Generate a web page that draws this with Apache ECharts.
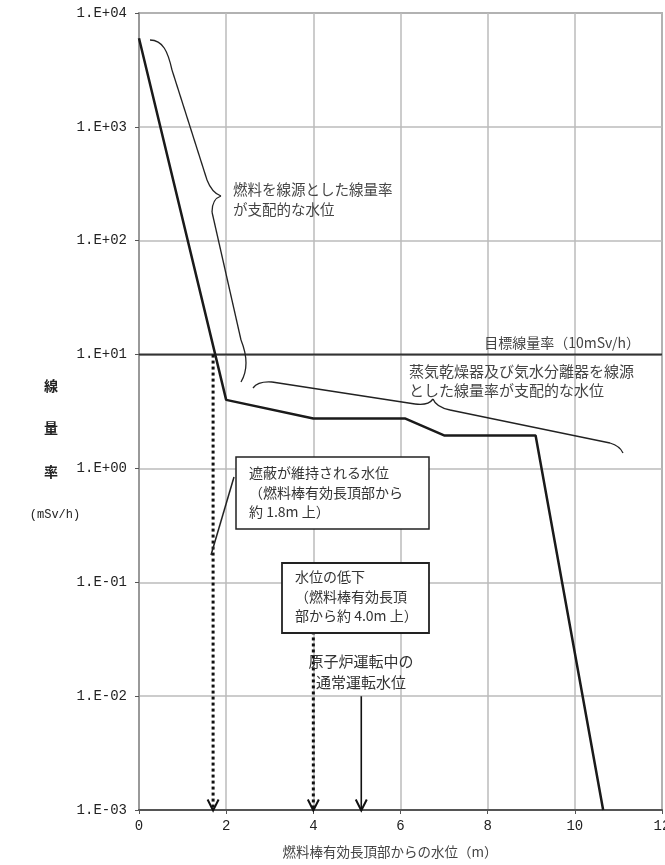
<!DOCTYPE html>
<html>
<head>
<meta charset="utf-8">
<script src="https://cdn.jsdelivr.net/npm/echarts@6/dist/echarts.min.js"></script>
<style>
html, body { margin: 0; padding: 0; background: #fff; }
#chart { width: 665px; height: 865px; }
</style>
</head>
<body>
<div id="chart"></div>
<script>
// 燃料棒有効長頂部からの水位 (m) と 線量率 (mSv/h)
const levels = [0, 2.0, 4.0, 6.1, 7.0, 9.1, 10.65]
const doseRates = [6000, 4.0, 2.75, 2.75, 1.95, 1.95, 0.001]
const xTicks = [0, 2, 4, 6, 8, 10, 12]
const yTicks = [0.001, 0.01, 0.1, 1, 10, 100, 1000, 10000]

// 目標線量率と矢印
const targetRate = 10
const shieldLevel = 1.7
const dropLevel = 4.0
const dropTop = 0.037
const normalLevel = 5.1
const normalTop = 0.01

const chart = echarts.init(document.getElementById('chart'))

const CJK = '"Noto Sans CJK JP", sans-serif'
const MONO = '"Liberation Mono", monospace'
const arrowHead = 'path://M0,0L6,10L12,0'
const braceStyle = { fill: null, stroke: '#222', lineWidth: 1.3 }

function expLabel(v) {
  const e = Math.round(Math.log10(v))
  return '1.E' + (e < 0 ? '-' : '+') + String(Math.abs(e)).padStart(2, '0')
}

function arrowSeries(x, top, dotted) {
  return {
    type: 'line',
    data: [
      { value: [x, top], symbol: 'none' },
      { value: [x, yTicks[0]] },
    ],
    symbol: arrowHead,
    symbolSize: [11, 11],
    symbolOffset: [0, -5],
    itemStyle: { color: 'rgba(0,0,0,0)', borderColor: '#111', borderWidth: 2 },
    lineStyle: { color: '#111', width: dotted ? 3 : 1.6, type: dotted ? [3, 3] : 'solid' },
    z: 5,
  }
}

// 括弧の部品
function seg(a, b) {
  return { type: 'line', z: 10, shape: { x1: a[0], y1: a[1], x2: b[0], y2: b[1] }, style: braceStyle }
}
function curve(a, c, b, c2) {
  const shape = { x1: a[0], y1: a[1], cpx1: c[0], cpy1: c[1], x2: b[0], y2: b[1] }
  if (c2) { shape.cpx2 = c2[0]; shape.cpy2 = c2[1] }
  return { type: 'bezierCurve', z: 10, shape: shape, style: braceStyle }
}

const brace1 = [
  curve([150, 40], [163, 40], [172, 70], [168, 52]),
  seg([172, 70], [207, 180]),
  curve([207, 180], [212, 193], [221, 196]),
  curve([221, 196], [212, 199], [212, 212]),
  seg([212, 212], [241, 340]),
  curve([241, 340], [251, 365], [241, 382]),
]
const brace2 = [
  curve([253, 388], [258, 381], [272, 382]),
  seg([272, 382], [415, 404]),
  curve([415, 404], [428, 406], [433, 399]),
  curve([433, 399], [436, 407], [450, 410]),
  seg([450, 410], [610, 443]),
  curve([610, 443], [620, 446], [623, 453]),
]

function label(text, x, y, font, extra) {
  return { type: 'text', z: 11, style: Object.assign({ text: text, x: x, y: y, font: font, fill: '#444' }, extra || {}) }
}

const option = {
  backgroundColor: '#fff',
  animation: false,
  grid: {
    left: 139,
    right: 3,
    top: 13,
    bottom: 55,
    outerBoundsMode: 'none',
    containLabel: false,
    show: true,
    borderColor: '#777',
    borderWidth: 1.5,
  },
  xAxis: {
    type: 'value',
    min: xTicks[0],
    max: xTicks[xTicks.length - 1],
    interval: 2,
    axisLine: { lineStyle: { color: '#555', width: 2 } },
    axisTick: { show: true, length: 4, lineStyle: { color: '#555' } },
    axisLabel: { color: '#222', fontFamily: MONO, fontSize: 14, margin: 9 },
    splitLine: { lineStyle: { color: '#bbb', width: 1.5 } },
  },
  yAxis: {
    type: 'log',
    logBase: 10,
    min: yTicks[0],
    max: yTicks[yTicks.length - 1],
    axisLine: { show: true, lineStyle: { color: '#999', width: 2 } },
    axisTick: { show: true, length: 4, lineStyle: { color: '#555' } },
    axisLabel: { color: '#222', fontFamily: MONO, fontSize: 14, margin: 12, formatter: expLabel },
    splitLine: { lineStyle: { color: '#bbb', width: 1.5 } },
  },
  series: [
    {
      type: 'line',
      data: levels.map((x, i) => [x, doseRates[i]]),
      symbol: 'none',
      lineStyle: { color: '#1a1a1a', width: 2.5 },
      z: 4,
    },
    {
      type: 'line',
      data: [[xTicks[0], targetRate], [xTicks[xTicks.length - 1], targetRate]],
      symbol: 'none',
      lineStyle: { color: '#333', width: 2 },
      z: 3,
    },
    arrowSeries(shieldLevel, targetRate, true),
    arrowSeries(dropLevel, dropTop, true),
    arrowSeries(normalLevel, normalTop, false),
  ],
  graphic: [].concat(brace1, brace2, [
    label('燃料を線源とした線量率\nが支配的な水位', 233, 179, '14.5px ' + CJK, { lineHeight: 20 }),
    label('目標線量率（10mSv/h）', 640, 343, '14px ' + CJK, { textAlign: 'right', textVerticalAlign: 'middle' }),
    label('蒸気乾燥器及び気水分離器を線源\nとした線量率が支配的な水位', 409, 362, '15px ' + CJK, { lineHeight: 19 }),
    // 遮蔽が維持される水位
    { type: 'line', z: 10, shape: { x1: 234, y1: 477, x2: 211, y2: 555 }, style: { stroke: '#222', lineWidth: 1.5 } },
    { type: 'rect', z: 10, shape: { x: 236, y: 457, width: 193, height: 72 }, style: { fill: '#fff', stroke: '#222', lineWidth: 1.5 } },
    label('遮蔽が維持される水位\n（燃料棒有効長頂部から\n約 1.8m 上）', 249, 463, '14px ' + CJK, { lineHeight: 19.5, fill: '#333' }),
    // 水位の低下
    { type: 'rect', z: 10, shape: { x: 282, y: 563, width: 147, height: 70 }, style: { fill: '#fff', stroke: '#222', lineWidth: 1.8 } },
    label('水位の低下\n（燃料棒有効長頂\n部から約 4.0m 上）', 295, 567, '14px ' + CJK, { lineHeight: 19.5, fill: '#333' }),
    label('原子炉運転中の\n通常運転水位', 361, 651, '15px ' + CJK, { textAlign: 'center', lineHeight: 21, fill: '#333' }),
    // 軸名
    label('線', 51, 386, 'bold 14px ' + CJK, { textAlign: 'center', textVerticalAlign: 'middle', fill: '#222' }),
    label('量', 51, 428, 'bold 14px ' + CJK, { textAlign: 'center', textVerticalAlign: 'middle', fill: '#222' }),
    label('率', 51, 472, 'bold 14px ' + CJK, { textAlign: 'center', textVerticalAlign: 'middle', fill: '#222' }),
    label('(mSv/h)', 55, 515, '12px ' + MONO, { textAlign: 'center', textVerticalAlign: 'middle', fill: '#222' }),
    label('燃料棒有効長頂部からの水位（m）', 390, 852, '13.5px ' + CJK, { textAlign: 'center', textVerticalAlign: 'middle' }),
  ]),
}

chart.setOption(option)
</script>
</body>
</html>
